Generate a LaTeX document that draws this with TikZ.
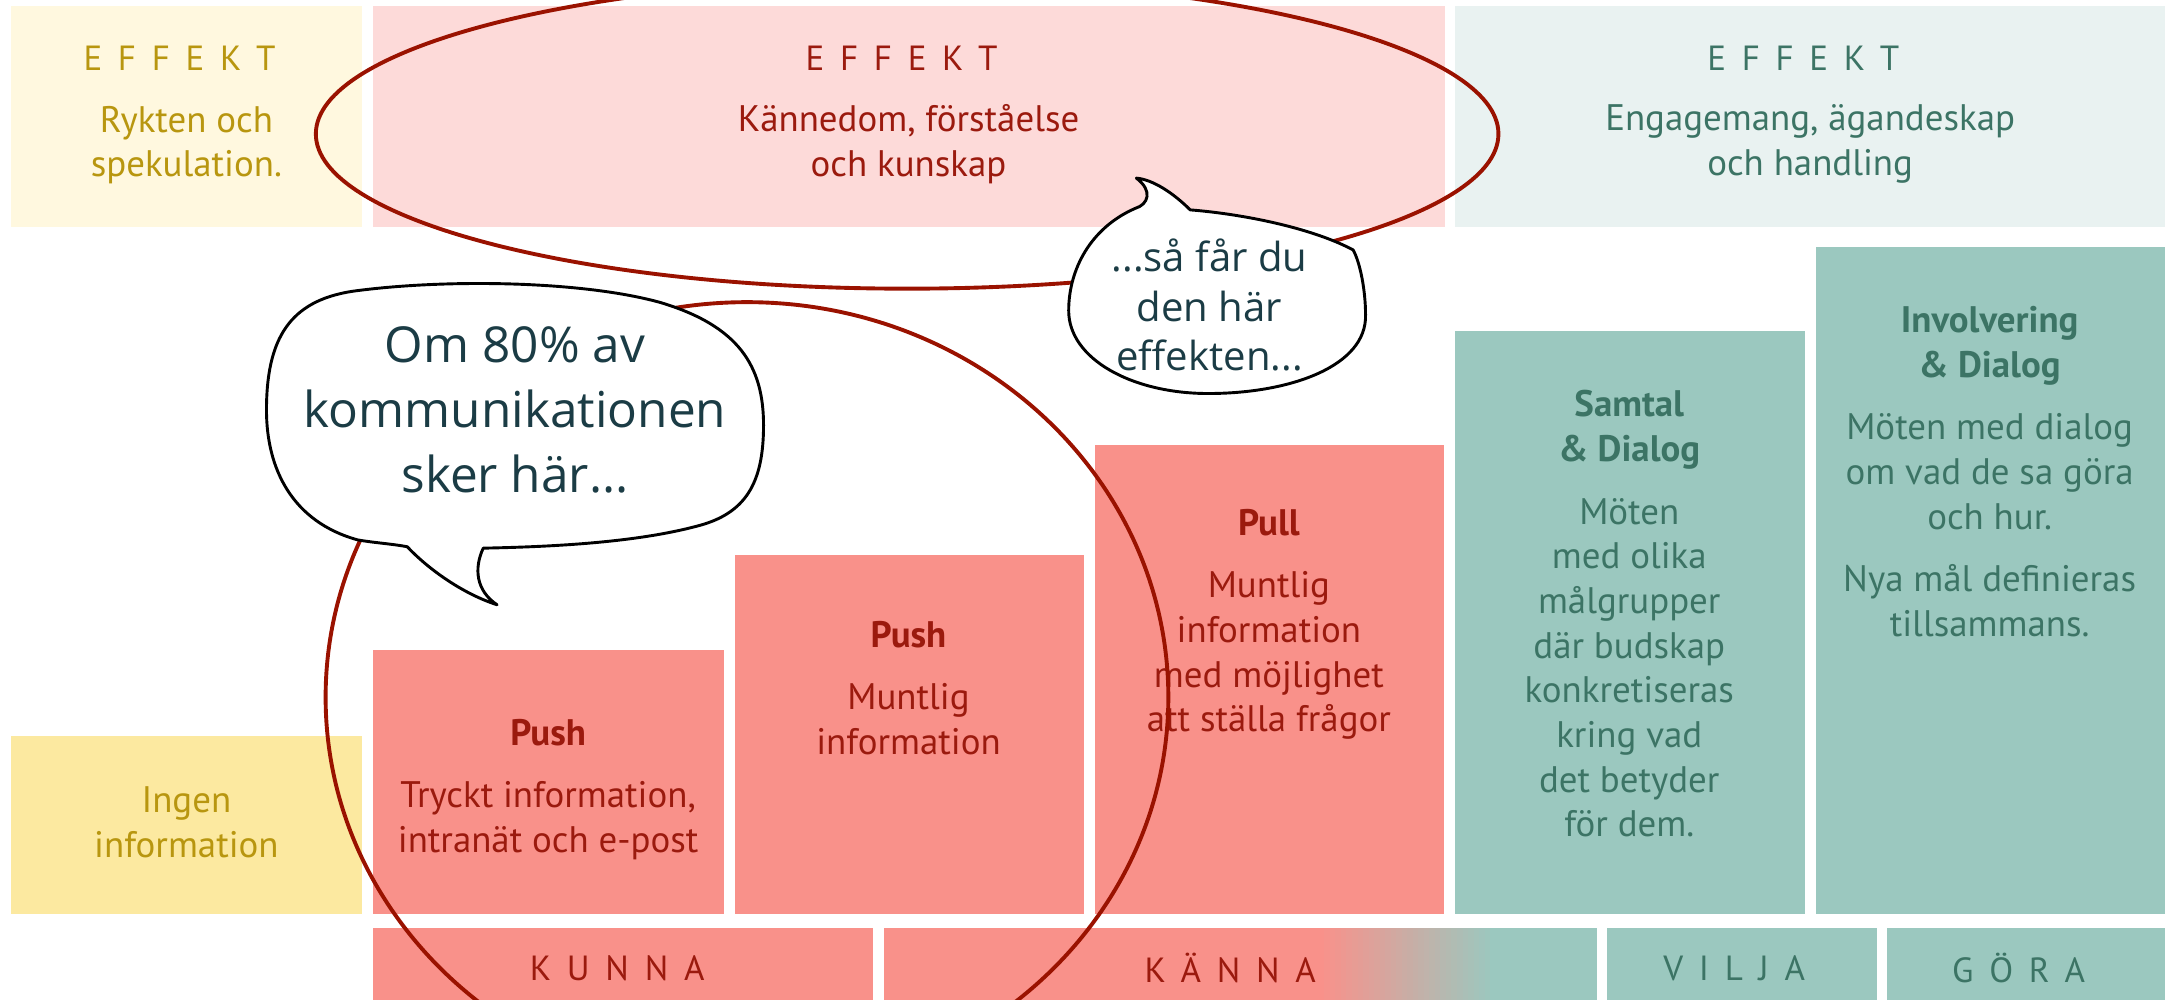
\documentclass[tikz,border=0pt]{standalone}
\usepackage{fontspec}
\setmainfont{PT Sans}
\newfontfamily\bubblefont{Open Sans}
\newfontfamily\spacedfont{PT Sans}[LetterSpace=45]
\usepackage{tikz}
\usetikzlibrary{positioning, shapes.geometric}
\definecolor{komm-cream}{HTML}{FFF8DF}
\definecolor{komm-gold}{HTML}{B8960F}
\definecolor{komm-yellow}{HTML}{FCE9A0}
\definecolor{komm-blush}{HTML}{FDDAD9}
\definecolor{komm-rose}{HTML}{F9918A}
\definecolor{komm-red}{HTML}{9B1A0E}
\definecolor{komm-mint}{HTML}{E9F2F1}
\definecolor{komm-teal}{HTML}{9BC8BF}
\definecolor{komm-pine}{HTML}{3C7465}
\definecolor{komm-ink}{HTML}{1B3C45}
\definecolor{komm-curve}{HTML}{9A1200}

\begin{document}
\begin{tikzpicture}[x=0.01cm, y=-0.01cm,
    box/.style={anchor=north west, inner sep=0, outer sep=0, draw=none},
    lbl/.style={anchor=north, align=center, inner sep=0, font=\fontsize{7.6}{9.2}\selectfont},
    caps/.style={inner sep=0, font=\spacedfont\fontsize{7.2}{9}\selectfont},
    ring/.style={ellipse, draw=komm-curve, line width=0.8pt, inner sep=0},
    bubble/.style={draw=black, fill=white, line width=0.6pt, line join=round},
    say/.style={align=center, inner sep=0, text=komm-ink},
]
    \useasboundingbox (0,0) rectangle (1568,724);
    \clip (0,0) rectangle (1568,724);

    % Effekt row
    \node[box, fill=komm-cream, minimum width=2.54cm, minimum height=1.6cm] (effGul) at (8,4) {};
    \node[box, fill=komm-blush, minimum width=7.76cm, minimum height=1.6cm] (effRod) at (270,4) {};
    \node[box, fill=komm-mint, minimum width=5.16cm, minimum height=1.6cm] (effGron) at (1054,4) {};

    \node[caps, text=komm-gold] (effGulCap) at (130,42) {EFFEKT};
    \node[caps, text=komm-red] (effRodCap) at (653,42) {EFFEKT};
    \node[caps, text=komm-pine] (effGronCap) at (1306,42) {EFFEKT};
    \node[lbl, text=komm-gold] (effGulTxt) at (135,76) {Rykten och\\spekulation.};
    \node[lbl, text=komm-red] (effRodTxt) at (658,75) {Kännedom, förståelse\\och kunskap};
    \node[lbl, text=komm-pine] (effGronTxt) at (1311,75) {Engagemang, ägandeskap\\och handling};

    % Channels
    \node[box, fill=komm-yellow, minimum width=2.54cm, minimum height=1.29cm] (ingen) at (8,533) {};
    \node[box, fill=komm-rose, minimum width=2.54cm, minimum height=1.91cm] (pushA) at (270,471) {};
    \node[box, fill=komm-rose, minimum width=2.53cm, minimum height=2.6cm] (pushB) at (532,402) {};
    \node[box, fill=komm-rose, minimum width=2.53cm, minimum height=3.4cm] (pull) at (793,322) {};
    \node[box, fill=komm-teal, minimum width=2.53cm, minimum height=4.22cm] (samtal) at (1054,240) {};
    \node[box, fill=komm-teal, minimum width=2.55cm, minimum height=4.83cm] (involv) at (1315,179) {};

    \node[lbl, text=komm-gold] (ingenTxt) at (135,569) {Ingen\\information};
    \node[lbl, text=komm-red] (pushATxt) at (397,520)
        {\textbf{Push}\\[3.7pt]Tryckt information,\\intranät och e-post};
    \node[lbl, text=komm-red] (pushBTxt) at (658,449)
        {\textbf{Push}\\[3.7pt]Muntlig\\information};
    \node[lbl, text=komm-red] (pullTxt) at (919,368)
        {\textbf{Pull}\\[3.7pt]Muntlig\\information\\med möjlighet\\att ställa frågor};
    \node[lbl, text=komm-pine] (samtalTxt) at (1180,282)
        {\textbf{Samtal}\\\textbf{\& Dialog}\\[3.7pt]Möten\\med olika\\målgrupper\\där budskap\\konkretiseras\\kring vad\\det betyder\\för dem.};
    \node[lbl, text=komm-pine] (involvTxt) at (1441,221)
        {\textbf{Involvering}\\\textbf{\& Dialog}\\[3.7pt]Möten med dialog\\om vad de sa göra\\och hur.\\[3.7pt]Nya mål definieras\\tillsammans.};

    % Steps
    \node[box, fill=komm-rose, minimum width=3.62cm, minimum height=0.6cm] (kunna) at (270,672) {};
    \node[box, fill=komm-teal, minimum width=5.16cm, minimum height=0.6cm,
        path picture={
            \fill[komm-rose] (path picture bounding box.south west) rectangle
                ([xshift=3.16cm]path picture bounding box.north west);
            \foreach \k in {0,...,31}{
                \pgfmathsetmacro\mix{100-\k*100/31}
                \fill[komm-rose!\mix!komm-teal]
                    ([xshift=3.15cm+\k*0.04cm]path picture bounding box.south west) rectangle
                    ([xshift=3.2cm+\k*0.04cm]path picture bounding box.north west);
            }
        }] (kanna) at (640,672) {};
    \node[box, fill=komm-teal, minimum width=1.95cm, minimum height=0.6cm] (vilja) at (1164,672) {};
    \node[box, fill=komm-teal, minimum width=2.05cm, minimum height=0.6cm] (gora) at (1367,672) {};

    \node[caps, text=komm-red] (kunnaCap) at (447,701) {KUNNA};
    \node[caps, text=komm-red] (kannaCap) at (891,701) {KÄNNA};
    \node[caps, text=komm-pine] (viljaCap) at (1256,701) {VILJA};
    \node[caps, text=komm-pine] (goraCap) at (1462,701) {GÖRA};

    % Rings
    \node[ring, minimum width=8.56cm, minimum height=2.24cm] (effRing) at (657,97) {};
    \node[ring, minimum width=6.1cm, minimum height=5.72cm] (kommRing) at (541,505) {};

    % Speech bubbles
    \draw[bubble] (259,391)
        .. controls (212,378) and (193,340) .. (193,297)
        .. controls (193,245) and (210,218) .. (255,211)
        .. controls (320,202) and (420,203) .. (478,219)
        .. controls (535,236) and (553,265) .. (553,308)
        .. controls (553,350) and (540,372) .. (505,381)
        .. controls (460,393) and (400,396) .. (350,397)
        .. controls (343,412) and (345,428) .. (360,438)
        .. controls (335,430) and (310,412) .. (295,396)
        .. controls (285,394) and (270,393) .. (259,391) -- cycle;
    \draw[bubble] (862,152)
        .. controls (850,140) and (835,130) .. (823,129)
        .. controls (835,138) and (832,148) .. (822,151)
        .. controls (790,165) and (774,195) .. (774,225)
        .. controls (774,260) and (820,285) .. (875,285)
        .. controls (935,285) and (990,265) .. (989,228)
        .. controls (989,210) and (985,190) .. (980,181)
        .. controls (950,165) and (900,155) .. (862,152) -- cycle;

    \node[say, font=\bubblefont\fontsize{10.2}{13.4}\selectfont] (saysHere) at (373,297)
        {Om 80\% av\\kommunikationen\\sker här...};
    \node[say, font=\bubblefont\fontsize{8.25}{10.2}\selectfont] (saysEffect) at (876,221)
        {...så får du\\den här\\effekten...};

\end{tikzpicture}
\end{document}
